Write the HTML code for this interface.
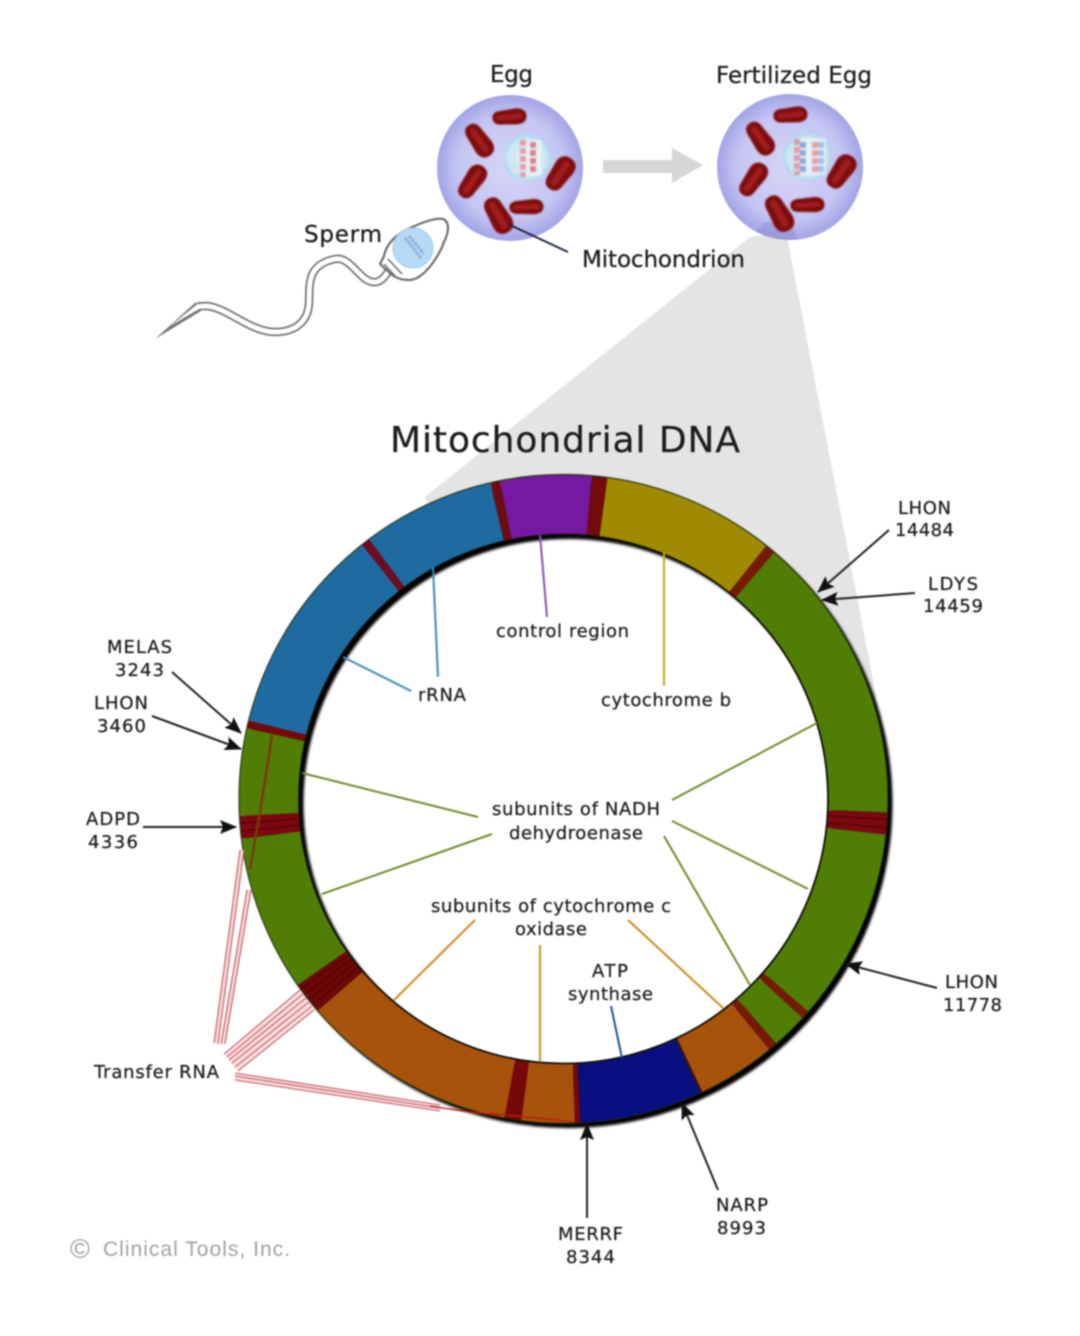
<!DOCTYPE html>
<html>
<head>
<meta charset="utf-8">
<style>
html,body{margin:0;padding:0;background:#fff;width:1080px;height:1336px;overflow:hidden}
svg{display:block;filter:blur(.7px)}
text{font-family:"DejaVu Sans","Liberation Sans",sans-serif;fill:#1c1c1c;stroke:#1c1c1c;stroke-width:.25;font-size:18px;text-anchor:start}
.s{fill:none;stroke-width:60}
.k{fill:none;stroke-width:60;stroke:#4c0404}
.l{fill:none;stroke-width:2}
.a{stroke:#222;stroke-width:2;marker-end:url(#ah)}
.t{fill:none;stroke:#c4585c;stroke-width:1.1}
.tb{fill:none;stroke:#f5d8d8}
</style>
</head>
<body>
<svg width="1080" height="1336" viewBox="0 0 1080 1336" xmlns="http://www.w3.org/2000/svg">
<defs>
<radialGradient id="eg" cx="50%" cy="50%" r="50%">
<stop offset="0" stop-color="#d6d6f7"/><stop offset=".72" stop-color="#c4c5f2"/><stop offset="1" stop-color="#a2a4e6"/>
</radialGradient>
<radialGradient id="nu" cx="50%" cy="50%" r="50%">
<stop offset="0" stop-color="#e0f2f7"/><stop offset=".8" stop-color="#c8e6f2"/><stop offset="1" stop-color="#acd8ec"/>
</radialGradient>
<filter id="b1" x="-20%" y="-20%" width="140%" height="140%"><feGaussianBlur stdDeviation=".8"/></filter>
<filter id="b2" x="-20%" y="-20%" width="140%" height="140%"><feGaussianBlur stdDeviation="1.2"/></filter>
<clipPath id="ec"><circle cx="790" cy="167" r="73"/></clipPath>
<marker id="ah" markerUnits="userSpaceOnUse" markerWidth="18" markerHeight="16" refX="16" refY="8" orient="auto">
<path d="M0,1 L17,8 L0,15 L3,8 Z" fill="#111"/>
</marker>
<g id="mito">
<path d="M-18,0 C-18,-6 -12,-7 -6,-7 L8,-8 C15,-8 19,-5 19,0 C19,6 14,8 8,8 L-6,7 C-12,7 -18,6 -18,0 Z" fill="#7f1010"/>
<path d="M-11,0 L12,0" stroke="#a01c1c" stroke-width="5" stroke-linecap="round" fill="none"/>
</g>
<g id="mitos" filter="url(#b1)">
<use href="#mito" transform="translate(509,117) rotate(-5) scale(.92,1)"/>
<use href="#mito" transform="translate(479,140) rotate(55) scale(1,1.2)"/>
<use href="#mito" transform="translate(472,182) rotate(-55) scale(1,1.2)"/>
<use href="#mito" transform="translate(560,174) rotate(-55) scale(1,1.3)"/>
<use href="#mito" transform="translate(526,207) rotate(-3) scale(.92,.95)"/>
<use href="#mito" transform="translate(498,215) rotate(60) scale(1.05,1.3)"/>
</g>
</defs>

<!-- grey cone -->
<polygon points="750,237 786,232 876,695 888,800 564,800 425,497" fill="#e4e4e4"/>

<!-- eggs -->
<circle cx="510" cy="168" r="73" fill="url(#eg)"/>
<circle cx="790" cy="167" r="73" fill="url(#eg)"/>
<polygon points="745,242 765,222 792,224 798,242" fill="#8c8ed4" opacity=".55" clip-path="url(#ec)" filter="url(#b1)"/>
<use href="#mitos"/>
<use href="#mitos" transform="translate(281,-2)"/>

<circle cx="527" cy="158" r="24" fill="url(#nu)"/>
<circle cx="807" cy="157" r="24" fill="url(#nu)"/>
<g filter="url(#b1)">
<rect x="520" y="140" width="22" height="36" fill="#f0f4f8" opacity=".7"/>
<rect x="800" y="138" width="26" height="37" fill="#f0f4f8" opacity=".6"/>
<g stroke-width="6" stroke-dasharray="6 2" fill="none" opacity=".75">
<path d="M523,140V177" stroke="#e88088"/>
<path d="M533,142V174" stroke="#d85862"/>
<path d="M797,139V175" stroke="#e88088"/>
<path d="M803,142V174" stroke="#6c90d0"/>
<path d="M815,142V174" stroke="#e88088"/>
<path d="M821,142V174" stroke="#8cb0e0"/>
</g>
</g>

<!-- grey arrow -->
<polygon points="603,160 672,160 672,148 703,165 672,183 672,173 603,173" fill="#d6d6d6"/>

<!-- pointer -->
<path d="M510,225 L568,252" stroke="#1e2440" stroke-width="2" fill="none"/>

<!-- sperm -->
<polygon points="155,339 196,302 201,311" fill="#777"/>
<path d="M198,306.5 C201,306 204,306 207,306 C228,308 250,332 275,332 C295,332 308,322 309,303 C310,285 306,265 335,259 C352,256 360,284 376,282 C382,281 385,276 388,272" fill="none" stroke="#747474" stroke-width="8.5"/>
<polygon points="170,326 197,304.5 199,309" fill="#fff"/>
<path d="M197,307 C201,306 204,306 207,306 C228,308 250,332 275,332 C295,332 308,322 309,303 C310,285 306,265 335,259 C352,256 360,284 376,282 C382,281 385,276 388,272" fill="none" stroke="#fff" stroke-width="5"/>
<path d="M384,256 C386,246 392,238 404,231 C418,224 434,217 443,219 C450,222 449,232 444,242 C439,256 428,272 417,278 C408,282 400,280 392,275 L380,264 Z" fill="#fff" stroke="#6e6e6e" stroke-width="2.2"/>
<path d="M384,264 L396,277 M388,259 L402,274" stroke="#6e6e6e" stroke-width="1.6" fill="none"/>
<circle cx="413" cy="248" r="20" fill="#b6daf6" stroke="#a0c8ec"/>
<path d="M405,238 L421,258 M409,236 L424,254" stroke="#7090c4" stroke-width="2" stroke-dasharray="3 1.5" filter="url(#b1)"/>

<!-- ring -->
<circle cx="563.5" cy="799" r="270" fill="#fff"/>
<g filter="url(#b2)"><circle cx="568" cy="803.5" r="294.5" fill="none" stroke="#000" stroke-width="60"/></g>
<g transform="translate(-.5,0)">
<circle class="s" cx="564" cy="799" r="294.5" pathLength="360" stroke="#1e6ba2" stroke-dasharray="63 360" transform="rotate(194 564 799)"/>
<circle class="s" cx="564" cy="799" r="294.5" pathLength="360" stroke="#6e0c20" stroke-dasharray="1.6 360" transform="rotate(231.6 564 799)"/>
<circle class="s" cx="564" cy="799" r="294.5" pathLength="360" stroke="#6e0c12" stroke-dasharray="1.7 360" transform="rotate(257 564 799)"/>
<circle class="s" cx="564" cy="799" r="294.5" pathLength="360" stroke="#751aa0" stroke-dasharray="16.3 360" transform="rotate(258.7 564 799)"/>
<circle class="s" cx="564" cy="799" r="294.5" pathLength="360" stroke="#720b0b" stroke-dasharray="2.8 360" transform="rotate(275 564 799)"/>
<circle class="s" cx="564" cy="799" r="294.5" pathLength="360" stroke="#a08a00" stroke-dasharray="30.9 360" transform="rotate(277.8 564 799)"/>
<circle class="s" cx="564" cy="799" r="294.5" pathLength="360" stroke="#761a06" stroke-dasharray="1.8 360" transform="rotate(308.7 564 799)"/>
<circle class="s" cx="564" cy="799" r="294.5" pathLength="360" stroke="#507e05" stroke-dasharray="51.9 360" transform="rotate(310.5 564 799)"/>
<circle class="s" cx="564" cy="799" r="294.5" pathLength="360" stroke="#7c0810" stroke-dasharray="3.9 360" transform="rotate(2.4 564 799)"/>
<circle class="s" cx="564" cy="799" r="294.5" pathLength="360" stroke="#507e05" stroke-dasharray="34.7 360" transform="rotate(6.3 564 799)"/>
<circle class="s" cx="564" cy="799" r="294.5" pathLength="360" stroke="#761a06" stroke-dasharray="1.5 360" transform="rotate(41 564 799)"/>
<circle class="s" cx="564" cy="799" r="294.5" pathLength="360" stroke="#507e05" stroke-dasharray="6.5 360" transform="rotate(42.5 564 799)"/>
<circle class="s" cx="564" cy="799" r="294.5" pathLength="360" stroke="#761a06" stroke-dasharray="1.6 360" transform="rotate(49 564 799)"/>
<circle class="s" cx="564" cy="799" r="294.5" pathLength="360" stroke="#a8530c" stroke-dasharray="14.4 360" transform="rotate(50.6 564 799)"/>
<circle class="s" cx="564" cy="799" r="294.5" pathLength="360" stroke="#3a1406" stroke-dasharray=".5 360" transform="rotate(64.6 564 799)"/>
<circle class="s" cx="564" cy="799" r="294.5" pathLength="360" stroke="#0a0f80" stroke-dasharray="22 360" transform="rotate(65 564 799)"/>
<circle class="s" cx="564" cy="799" r="294.5" pathLength="360" stroke="#760808" stroke-dasharray="1 360" transform="rotate(87 564 799)"/>
<circle class="s" cx="564" cy="799" r="294.5" pathLength="360" stroke="#a8530c" stroke-dasharray="9.5 360" transform="rotate(88 564 799)"/>
<circle class="s" cx="564" cy="799" r="294.5" pathLength="360" stroke="#760808" stroke-dasharray="3 360" transform="rotate(97.5 564 799)"/>
<circle class="s" cx="564" cy="799" r="294.5" pathLength="360" stroke="#a8530c" stroke-dasharray="38.8 360" transform="rotate(100.5 564 799)"/>
<circle class="s" cx="564" cy="799" r="294.5" pathLength="360" stroke="#6e0808" stroke-dasharray="5.7 360" transform="rotate(139.3 564 799)"/>
<circle class="s" cx="564" cy="799" r="294.5" pathLength="360" stroke="#507e05" stroke-dasharray="28 360" transform="rotate(145 564 799)"/>
<circle class="s" cx="564" cy="799" r="294.5" pathLength="360" stroke="#7c0810" stroke-dasharray="4 360" transform="rotate(173 564 799)"/>
<circle class="s" cx="564" cy="799" r="294.5" pathLength="360" stroke="#507e05" stroke-dasharray="15.6 360" transform="rotate(177 564 799)"/>
<circle class="s" cx="564" cy="799" r="294.5" pathLength="360" stroke="#760808" stroke-dasharray="1.4 360" transform="rotate(192.6 564 799)"/>
<!-- stripes inside bands -->
<circle class="k" cx="564" cy="799" r="294.5" pathLength="360" stroke-dasharray=".22 360" transform="rotate(3.5 564 799)"/>
<circle class="k" cx="564" cy="799" r="294.5" pathLength="360" stroke-dasharray=".22 360" transform="rotate(5 564 799)"/>
<circle class="k" cx="564" cy="799" r="294.5" pathLength="360" stroke-dasharray=".22 360" transform="rotate(174.2 564 799)"/>
<circle class="k" cx="564" cy="799" r="294.5" pathLength="360" stroke-dasharray=".22 360" transform="rotate(175.6 564 799)"/>
<circle class="k" cx="564" cy="799" r="294.5" pathLength="360" stroke-dasharray=".22 360" transform="rotate(140.5 564 799)"/>
<circle class="k" cx="564" cy="799" r="294.5" pathLength="360" stroke-dasharray=".22 360" transform="rotate(141.7 564 799)"/>
<circle class="k" cx="564" cy="799" r="294.5" pathLength="360" stroke-dasharray=".22 360" transform="rotate(142.9 564 799)"/>
<circle class="k" cx="564" cy="799" r="294.5" pathLength="360" stroke-dasharray=".22 360" transform="rotate(144 564 799)"/>
</g>
<circle cx="563.5" cy="799" r="324.5" fill="none" stroke="#1a2a08" stroke-width="1.4" opacity=".75"/>
<circle cx="563.5" cy="799" r="264.5" fill="none" stroke="#101008" stroke-width="1.8"/>
<path d="M272,735 L260,813 L255,840 L250,870" fill="none" stroke="#7a3a05" stroke-width="2.5"/>

<!-- transfer RNA lines -->
<g>
<path class="tb" stroke-width="5" d="M216,1043 L242,850 M223,1044 L249,890"/>
<path class="t" d="M214,1043 L240,850 M218,1044 L244,850 M221,1044 L247,890 M225,1044 L251,890"/>
<polygon points="224,1054 300,990 314,1010 238,1072" fill="#f7dede"/>
<path class="t" d="M224,1054 L300,990 M227,1057 L303,994 M229,1060 L306,998 M232,1063 L309,1002 M235,1067 L312,1006 M238,1071 L314,1010"/>
<polygon points="235,1073 440,1105 440,1111 235,1080" fill="#f7dede"/>
<path class="t" d="M235,1073 L440,1105 M235,1076 L440,1108 M235,1080 L440,1111"/>
<path d="M430,1106 L475,1113 M488,1113 L575,1122 M450,1109 L500,1116" fill="none" stroke="#b81c10" stroke-width="1.3"/>
</g>

<!-- connectors -->
<path class="l" stroke="#8a50b0" d="M540,535 L547,617"/>
<path class="l" stroke="#3a8ab8" d="M433,567 L438,677 M343,657 L411,691"/>
<path class="l" stroke="#b8aa20" d="M664,552 L664,686"/>
<path class="l" stroke="#6f8c2a" d="M817,723 L672,800 M808,889 L672,821 M750,985 L664,836 M302,773 L478,817 M322,894 L492,834"/>
<path class="l" stroke="#d08a20" d="M475,920 L394,1000 M540,945 L540,1062 M628,920 L723,1008"/>
<path class="l" stroke="#2050a0" d="M611,1006 L622,1058"/>

<!-- arrows -->
<path class="a" d="M889,530 L818,592"/>
<path class="a" d="M915,593 L822,600"/>
<path class="a" d="M172,672 L241,733"/>
<path class="a" d="M152,716 L241,749"/>
<path class="a" d="M143,827 L236,827"/>
<path class="a" d="M937,988 L846,964"/>
<path class="a" d="M718,1190 L682,1103"/>
<path class="a" d="M587,1218 L587,1124"/>

<!-- text -->
<text x="490" y="82" style="font-size:23px" textLength="43">Egg</text>
<text x="716" y="83" style="font-size:23px" textLength="156">Fertilized Egg</text>
<text x="304" y="242" style="font-size:23px" textLength="78">Sperm</text>
<text x="582" y="267" style="font-size:23px" textLength="163">Mitochondrion</text>
<text x="390" y="452" style="font-size:36px" textLength="350">Mitochondrial DNA</text>
<text x="898" y="514" textLength="53">LHON</text>
<text x="895" y="536" textLength="59">14484</text>
<text x="928" y="590" textLength="50">LDYS</text>
<text x="923" y="612" textLength="60">14459</text>
<text x="107" y="653" textLength="65">MELAS</text>
<text x="115" y="676" textLength="49">3243</text>
<text x="94" y="709" textLength="54">LHON</text>
<text x="97" y="732" textLength="49">3460</text>
<text x="86" y="825" textLength="54">ADPD</text>
<text x="88" y="848" textLength="50">4336</text>
<text x="945" y="988" textLength="53">LHON</text>
<text x="943" y="1011" textLength="59">11778</text>
<text x="716" y="1211" textLength="52">NARP</text>
<text x="717" y="1234" textLength="49">8993</text>
<text x="558" y="1240" textLength="65">MERRF</text>
<text x="566" y="1263" textLength="49">8344</text>
<text x="94" y="1078" textLength="125">Transfer RNA</text>
<text x="496" y="637" textLength="133">control region</text>
<text x="418" y="701" textLength="48">rRNA</text>
<text x="601" y="706" textLength="130">cytochrome b</text>
<text x="492" y="815" textLength="168">subunits of NADH</text>
<text x="509" y="839" textLength="134">dehydroenase</text>
<text x="431" y="912" textLength="240">subunits of cytochrome c</text>
<text x="515" y="935" textLength="72">oxidase</text>
<text x="592" y="977" textLength="36">ATP</text>
<text x="568" y="1000" textLength="85">synthase</text>
<text x="70" y="1258" style="font-size:27px;fill:#9a9a9a;stroke:none;font-family:'Liberation Sans',sans-serif">©</text>
<text x="103" y="1256" style="font-size:21px;fill:#a0a0a0;stroke:none;font-family:'Liberation Sans',sans-serif" textLength="187">Clinical Tools, Inc.</text>
</svg>
</body>
</html>
